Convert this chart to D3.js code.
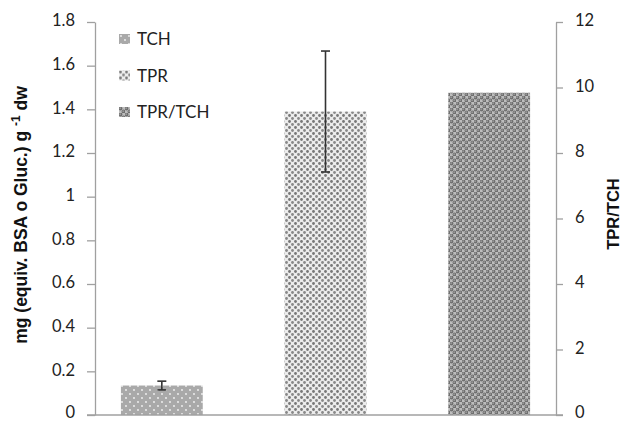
<!DOCTYPE html>
<html><head><meta charset="utf-8">
<script src="https://cdn.jsdelivr.net/npm/d3@7"></script>
<style>body{margin:0;background:#fff}svg{display:block}</style>
</head><body>
<svg id="c" width="624" height="421"></svg>
<script>
const categories = ["TCH", "TPR", "TPR/TCH"];
const values = [0.135, 1.39, 9.84];
const errors = [0.02, 0.277, null];
const useRight = [false, false, true];
const leftTicks = [0, 0.2, 0.4, 0.6, 0.8, 1, 1.2, 1.4, 1.6, 1.8];
const rightTicks = [0, 2, 4, 6, 8, 10, 12];
const leftTitle = "mg (equiv. BSA o Gluc.) g ";
const rightTitle = "TPR/TCH";

const svg = d3.select("#c");
const font = "Lato, 'Open Sans', 'Liberation Sans', sans-serif";
const axisColor = "#a0a0a0";

const x = d3.scaleBand().domain(categories).range([80, 571]).paddingInner(0.5).paddingOuter(0.25);
const yL = d3.scaleLinear().domain([0, 1.8]).range([415, 22]);
const yR = d3.scaleLinear().domain([0, 12]).range([415, 22]);

// patterns
const defs = svg.append("defs");
const p1 = defs.append("pattern").attr("id", "pTCH").attr("patternUnits", "userSpaceOnUse").attr("width", 8).attr("height", 8);
p1.append("rect").attr("width", 8).attr("height", 8).attr("fill", "#a9a9a9");
p1.append("circle").attr("cx", 2).attr("cy", 2).attr("r", 0.9).attr("fill", "#f4f4f4");
p1.append("circle").attr("cx", 6).attr("cy", 6).attr("r", 0.9).attr("fill", "#f4f4f4");

const p2 = defs.append("pattern").attr("id", "pTPR").attr("patternUnits", "userSpaceOnUse").attr("width", 6).attr("height", 6);
p2.append("rect").attr("width", 6).attr("height", 6).attr("fill", "#ececec");
p2.append("circle").attr("cx", 1.5).attr("cy", 1.5).attr("r", 1.4).attr("fill", "#777");
p2.append("circle").attr("cx", 4.5).attr("cy", 4.5).attr("r", 1.4).attr("fill", "#888");

const p3 = defs.append("pattern").attr("id", "pRATIO").attr("patternUnits", "userSpaceOnUse").attr("width", 6).attr("height", 6);
p3.append("rect").attr("width", 6).attr("height", 6).attr("fill", "#bdbdbd");
p3.append("circle").attr("cx", 1.5).attr("cy", 1.5).attr("r", 1.9).attr("fill", "#6f6f6f");
p3.append("circle").attr("cx", 4.5).attr("cy", 4.5).attr("r", 1.9).attr("fill", "#6f6f6f");
p3.append("circle").attr("cx", 1.1).attr("cy", 1.1).attr("r", 0.6).attr("fill", "#d0d0d0");
p3.append("circle").attr("cx", 4.1).attr("cy", 4.1).attr("r", 0.6).attr("fill", "#d0d0d0");
const fills = ["url(#pTCH)", "url(#pTPR)", "url(#pRATIO)"];

// bars
const data = categories.map((c, i) => ({c, v: values[i], e: errors[i], r: useRight[i], f: fills[i]}));
svg.append("g").selectAll("rect").data(data).join("rect")
  .attr("x", d => x(d.c)).attr("width", x.bandwidth())
  .attr("y", d => (d.r ? yR : yL)(d.v))
  .attr("height", d => 415 - (d.r ? yR : yL)(d.v))
  .attr("fill", d => d.f);

// error bars
const eb = svg.append("g").attr("stroke", "#333").attr("stroke-width", 1.6);
data.filter(d => d.e != null).forEach(d => {
  const cx = x(d.c) + x.bandwidth() / 2;
  const y = d.r ? yR : yL;
  eb.append("line").attr("x1", cx).attr("x2", cx).attr("y1", y(d.v + d.e)).attr("y2", y(d.v - d.e));
  [d.v + d.e, d.v - d.e].forEach(v => eb.append("line").attr("x1", cx - 4.5).attr("x2", cx + 4.5).attr("y1", y(v)).attr("y2", y(v)));
});

// baseline
svg.append("line").attr("x1", 87).attr("x2", 563).attr("y1", 415).attr("y2", 415).attr("stroke", axisColor).attr("stroke-width", 1.3);

// left axis
const gL = svg.append("g").attr("transform", "translate(95,0)")
  .call(d3.axisLeft(yL).tickValues(leftTicks).tickSize(8).tickSizeOuter(0).tickPadding(12).tickFormat(d => d3.format("")(+d.toFixed(1))));
gL.select(".domain").attr("stroke", axisColor).attr("stroke-width", 1.3);
gL.selectAll(".tick line").attr("stroke", axisColor).attr("stroke-width", 1.3);
gL.selectAll("text").attr("font-family", font).attr("font-size", 16.5).attr("fill", "#222").attr("dy", d => d === 0 ? "0.14em" : "0.24em");

// right axis
const gR = svg.append("g").attr("transform", "translate(556,0)")
  .call(d3.axisRight(yR).tickValues(rightTicks).tickSize(7).tickSizeOuter(0).tickPadding(12));
gR.select(".domain").attr("stroke", axisColor).attr("stroke-width", 1.3);
gR.selectAll(".tick line").attr("stroke", axisColor).attr("stroke-width", 1.3);
gR.selectAll("text").attr("font-family", font).attr("font-size", 16.5).attr("fill", "#222").attr("dy", d => d === 0 ? "0.14em" : "0.24em");

// titles
const lt = svg.append("text").attr("transform", "translate(27,215) rotate(-90)")
  .attr("text-anchor", "middle").attr("font-family", "'Liberation Sans', Arial, sans-serif")
  .attr("font-weight", "bold").attr("font-size", 17.5).attr("fill", "#111");
lt.append("tspan").text(leftTitle);
lt.append("tspan").attr("dy", -7).attr("font-size", 12).text("-1");
lt.append("tspan").attr("dy", 7).text(" dw");

svg.append("text").attr("transform", "translate(619,214) rotate(-90)")
  .attr("text-anchor", "middle").attr("font-family", "'Liberation Sans', Arial, sans-serif")
  .attr("font-weight", "bold").attr("font-size", 16.5).attr("fill", "#111").text(rightTitle);

// legend
const lg = svg.append("g").attr("transform", "translate(119,34)");
categories.forEach((c, i) => {
  const g = lg.append("g").attr("transform", `translate(0,${i * 36.5})`);
  g.append("rect").attr("width", 11).attr("height", 10).attr("fill", fills[i]);
  g.append("text").attr("x", 18).attr("y", 11).attr("font-family", font).attr("font-size", 17).attr("fill", "#222").text(c);
});
</script>
</body></html>
